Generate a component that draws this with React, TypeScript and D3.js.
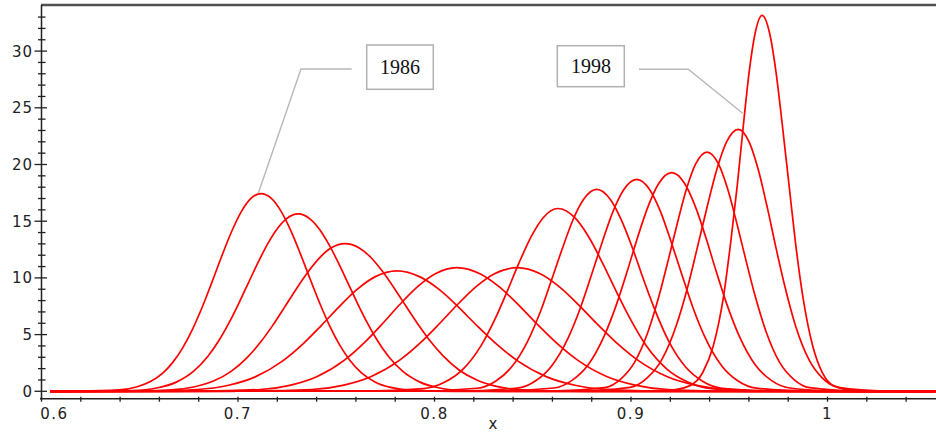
import React from "react";
import * as d3 from "d3";

type P = [number, number];

const years = [1986, 1987, 1988, 1989, 1990, 1991, 1992, 1993, 1994, 1995, 1996, 1997, 1998];

const s1986: P[] = [[0.6045,0],[0.62,0.01],[0.6397,0.12],[0.6487,0.4],[0.6557,0.88],[0.6617,1.6],[0.6667,2.53],[0.6717,3.79],[0.6767,5.42],[0.6817,7.39],[0.6867,9.61],[0.6917,11.91],[0.6967,14.07],[0.7017,15.85],[0.7067,17.03],[0.7117,17.44],[0.7167,17.05],[0.7217,15.93],[0.7267,14.23],[0.7317,12.14],[0.7367,9.9],[0.7417,7.72],[0.7467,5.75],[0.7517,4.09],[0.7567,2.79],[0.7627,1.65],[0.7697,0.83],[0.7777,0.34],[0.7877,0.09],[0.81,0],[1.055,0]];
const s1987: P[] = [[0.6045,0],[0.63,0.01],[0.6456,0.06],[0.6586,0.29],[0.6686,0.81],[0.6776,1.8],[0.6846,3.07],[0.6906,4.57],[0.6956,6.1],[0.7006,7.83],[0.7056,9.68],[0.7106,11.5],[0.7156,13.15],[0.7196,14.25],[0.7246,15.21],[0.7306,15.64],[0.7366,15.21],[0.7416,14.25],[0.7456,13.15],[0.7506,11.5],[0.7556,9.68],[0.7606,7.83],[0.7656,6.1],[0.7706,4.57],[0.7766,3.07],[0.7836,1.8],[0.7926,0.81],[0.8026,0.29],[0.8156,0.06],[0.835,0],[1.055,0]];
const s1988: P[] = [[0.6045,0],[0.64,0.01],[0.6645,0.1],[0.6775,0.38],[0.6875,0.9],[0.6965,1.76],[0.7045,2.95],[0.7115,4.34],[0.7175,5.77],[0.7235,7.36],[0.7295,8.98],[0.7355,10.5],[0.7415,11.77],[0.7475,12.65],[0.7545,13.02],[0.7615,12.66],[0.7675,11.82],[0.7735,10.58],[0.7795,9.09],[0.7855,7.5],[0.7915,5.93],[0.7975,4.5],[0.8045,3.1],[0.8125,1.88],[0.8215,0.99],[0.8315,0.43],[0.8445,0.12],[0.865,0.01],[0.88,0],[1.055,0]];
const s1989: P[] = [[0.6045,0],[0.65,0.02],[0.6794,0.16],[0.6952,0.53],[0.7088,1.27],[0.7226,2.66],[0.7335,4.25],[0.7426,5.84],[0.7513,7.43],[0.7609,9.03],[0.7697,10.09],[0.7809,10.62],[0.7926,10.09],[0.802,9.03],[0.8122,7.43],[0.8213,5.84],[0.831,4.25],[0.8425,2.66],[0.8571,1.27],[0.8715,0.53],[0.8882,0.16],[0.92,0.02],[0.94,0],[1.055,0]];
const s1990: P[] = [[0.6045,0],[0.68,0.02],[0.7114,0.16],[0.7269,0.55],[0.7403,1.31],[0.754,2.73],[0.7647,4.36],[0.7737,6.0],[0.7822,7.63],[0.7917,9.27],[0.8004,10.36],[0.8114,10.9],[0.8231,10.36],[0.8325,9.27],[0.8427,7.63],[0.8518,6.0],[0.8615,4.36],[0.873,2.73],[0.8876,1.31],[0.902,0.55],[0.9187,0.16],[0.95,0.02],[0.97,0],[1.055,0]];
const s1991: P[] = [[0.6045,0],[0.7,0.02],[0.7376,0.16],[0.7539,0.55],[0.7678,1.31],[0.7821,2.73],[0.7933,4.36],[0.8027,6.0],[0.8116,7.63],[0.8215,9.27],[0.8305,10.36],[0.842,10.9],[0.8538,10.36],[0.8631,9.27],[0.8733,7.63],[0.8824,6.0],[0.8921,4.36],[0.9036,2.73],[0.9182,1.31],[0.9326,0.55],[0.9493,0.16],[0.98,0.02],[1.0,0],[1.055,0]];
const s1992: P[] = [[0.6045,0],[0.765,0.02],[0.7946,0.24],[0.8053,0.81],[0.8144,1.93],[0.8237,4.03],[0.831,6.45],[0.8371,8.87],[0.8429,11.28],[0.8494,13.7],[0.8553,15.31],[0.8628,16.12],[0.8714,15.31],[0.8782,13.7],[0.8856,11.28],[0.8923,8.87],[0.8994,6.45],[0.9077,4.03],[0.9184,1.93],[0.9289,0.81],[0.9411,0.24],[0.97,0.02],[0.99,0],[1.055,0]];
const s1993: P[] = [[0.6045,0],[0.79,0.02],[0.8216,0.27],[0.8311,0.89],[0.8392,2.14],[0.8475,4.45],[0.8541,7.12],[0.8595,9.79],[0.8648,12.46],[0.8705,15.13],[0.8758,16.91],[0.8825,17.8],[0.8895,16.91],[0.895,15.13],[0.9011,12.46],[0.9065,9.79],[0.9123,7.12],[0.9191,4.45],[0.9278,2.14],[0.9364,0.89],[0.9463,0.27],[0.975,0.02],[0.995,0],[1.055,0]];
const s1994: P[] = [[0.6045,0],[0.81,0.02],[0.842,0.28],[0.8515,0.93],[0.8596,2.24],[0.8679,4.67],[0.8745,7.48],[0.8799,10.28],[0.8852,13.08],[0.8909,15.89],[0.8962,17.76],[0.9029,18.69],[0.9096,17.76],[0.9149,15.89],[0.9206,13.08],[0.9259,10.28],[0.9313,7.48],[0.9379,4.67],[0.9462,2.24],[0.9543,0.93],[0.9638,0.28],[0.99,0.02],[1.01,0],[1.055,0]];
const s1995: P[] = [[0.6045,0],[0.83,0.02],[0.8607,0.29],[0.87,0.96],[0.8781,2.31],[0.8862,4.82],[0.8927,7.71],[0.8981,10.6],[0.9032,13.5],[0.9089,16.39],[0.9141,18.32],[0.9207,19.28],[0.9273,18.32],[0.9325,16.39],[0.9382,13.5],[0.9433,10.6],[0.9487,7.71],[0.9552,4.82],[0.9633,2.31],[0.9714,0.96],[0.9807,0.29],[1.005,0.02],[1.02,0],[1.055,0]];
const s1996: P[] = [[0.6045,0],[0.86,0.02],[0.8865,0.32],[0.8946,1.06],[0.9017,2.53],[0.9087,5.28],[0.9143,8.44],[0.919,11.61],[0.9235,14.77],[0.9284,17.94],[0.9329,20.05],[0.9387,21.1],[0.9445,20.05],[0.949,17.94],[0.9539,14.77],[0.9584,11.61],[0.9631,8.44],[0.9687,5.28],[0.9757,2.53],[0.9828,1.06],[0.9909,0.32],[1.015,0.02],[1.03,0],[1.055,0]];
const s1997: P[] = [[0.6045,0],[0.87,0.02],[0.8995,0.35],[0.9081,1.16],[0.9156,2.77],[0.923,5.78],[0.9289,9.24],[0.9338,12.71],[0.9386,16.17],[0.9438,19.64],[0.9485,21.95],[0.9546,23.1],[0.9602,21.95],[0.9646,19.64],[0.9694,16.17],[0.9737,12.71],[0.9783,9.24],[0.9837,5.78],[0.9906,2.77],[0.9974,1.16],[1.0054,0.35],[1.03,0.02],[1.045,0],[1.055,0]];
const s1998: P[] = [[0.6045,0],[0.9,0.02],[0.92,0.1],[0.93,0.5],[0.9365,1.66],[0.9418,3.97],[0.947,8.28],[0.9508,13.24],[0.9541,18.2],[0.957,23.17],[0.9601,28.13],[0.963,31.44],[0.9667,33.15],[0.9707,31.44],[0.9738,28.13],[0.9772,23.17],[0.9804,18.2],[0.9836,13.24],[0.9875,8.28],[0.9925,3.97],[0.9973,1.66],[1.003,0.5],[1.015,0.05],[1.03,0],[1.055,0]];

const series: P[][] = [s1986, s1987, s1988, s1989, s1990, s1991, s1992, s1993, s1994, s1995, s1996, s1997, s1998];

const xTickValues = [0.6, 0.7, 0.8, 0.9, 1.0];
const xTickLabels = ["0.6", "0.7", "0.8", "0.9", "1"];
const yTickValues = [0, 5, 10, 15, 20, 25, 30];
const yTickLabels = ["0", "5", "10", "15", "20", "25", "30"];
const annotationLabels = ["1986", "1998"];

export default function App() {
  const W = 936;
  const H = 432;
  const x = d3.scaleLinear().domain([0.6, 1.0552]).range([41.5, 936]);
  const y = d3.scaleLinear().domain([0, 30]).range([391.3, 51.1]);
  const line = d3
    .line<P>()
    .x((d) => x(d[0]))
    .y((d) => y(d[1]))
    .curve(d3.curveMonotoneX);

  const top = 5;
  const xAxisY = 398.7;
  const minorX = d3.range(0, 23).map((i) => 0.6 + i * 0.02);
  const minorY = d3.range(0, 34);
  const tickFont = "'DejaVu Sans', sans-serif";

  return (
    <svg
      width={W}
      height={H}
      style={{ position: "absolute", left: 0, top: 0, background: "#fff" }}
    >
      <rect x={0} y={0} width={W} height={H} fill="#fff" />
      <g fill="none" stroke="#ff0000" strokeWidth={1.7} strokeLinejoin="round">
        {series.map((s, i) => (
          <path key={years[i]} d={line(s) || ""} />
        ))}
      </g>

      <line x1={41} x2={W} y1={top} y2={top} stroke="#505050" strokeWidth={2.5} />
      <line x1={41.5} x2={41.5} y1={top} y2={xAxisY + 0.5} stroke="#222" strokeWidth={1.5} />
      <line x1={40} x2={W} y1={xAxisY} y2={xAxisY} stroke="#222" strokeWidth={1.5} />

      <g stroke="#222" strokeWidth={1.3}>
        {minorY.map((v) => {
          const major = v % 5 === 0;
          return (
            <line
              key={v}
              x1={major ? 34.5 : 38}
              x2={major ? 47 : 45.5}
              y1={y(v)}
              y2={y(v)}
            />
          );
        })}
      </g>
      <g fontFamily={tickFont} fontSize={15} fill="#222" textAnchor="end" letterSpacing={1}>
        {yTickValues.map((v, i) => (
          <text key={v} x={33} y={y(v) + 5.5}>
            {yTickLabels[i]}
          </text>
        ))}
      </g>

      <g stroke="#222" strokeWidth={1.3}>
        {minorX.map((v, i) => (
          <line key={i} x1={x(v)} x2={x(v)} y1={xAxisY - 2} y2={xAxisY + 3} />
        ))}
      </g>
      <g fontFamily={tickFont} fontSize={15} fill="#222" textAnchor="middle" letterSpacing={1.5}>
        {xTickValues.map((v, i) => (
          <text key={v} x={x(v) + (i === 0 ? 13 : 0)} y={418.5}>
            {xTickLabels[i]}
          </text>
        ))}
      </g>
      <text x={493} y={429} fontFamily={tickFont} fontSize={15} fill="#222" textAnchor="middle">
        x
      </text>

      <g fill="none" stroke="#b8b8b8" strokeWidth={1.4}>
        <polyline points="351.7,69 301,69 258.3,193.3" />
        <polyline points="639,69.3 688.3,69.3 742.7,113.3" />
      </g>
      <g fill="#fff" stroke="#b0b0b0" strokeWidth={1.5}>
        <rect x={366.7} y={45} width={66.6} height={44.3} />
        <rect x={557.3} y={45.7} width={67} height={41} />
      </g>
      <g fontFamily="'Liberation Serif', 'Times New Roman', serif" fontSize={20} fill="#111" textAnchor="middle">
        <text x={400} y={73.5}>{annotationLabels[0]}</text>
        <text x={591} y={72.8}>{annotationLabels[1]}</text>
      </g>
    </svg>
  );
}
